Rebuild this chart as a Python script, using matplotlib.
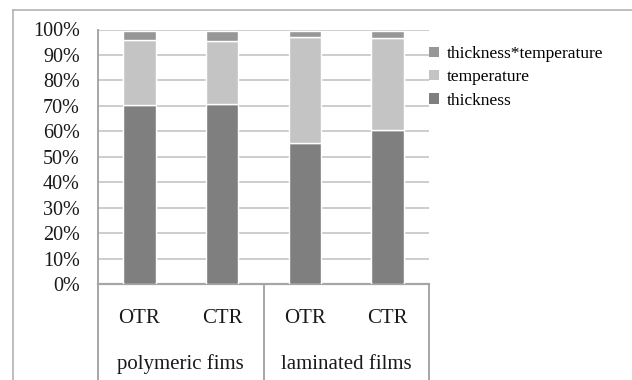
import matplotlib
matplotlib.use('Agg')
import matplotlib.pyplot as plt
from matplotlib.lines import Line2D
from matplotlib.ticker import FuncFormatter
import numpy as np

plt.rcParams['font.family'] = ['Liberation Serif', 'DejaVu Serif']

categories = ['OTR', 'CTR', 'OTR', 'CTR']
groups = ['polymeric fims', 'laminated films']
thickness = [70.2, 70.7, 55.5, 60.4]
temperature = [25.8, 24.8, 41.6, 36.1]
interaction = [3.6, 4.1, 2.5, 3.1]

C_THICK = '#7f7f7f'
C_TEMP = '#c4c4c4'
C_INTER = '#979797'
C_GRID = '#cdcdcd'
C_AXIS = '#a6a6a6'

fig = plt.figure(figsize=(6.32, 3.8), dpi=100)
ax = fig.add_axes([98 / 632, 1 - 284 / 380, 331 / 632, 254.5 / 380])

x = np.arange(len(categories))
w = 0.39
b1 = ax.bar(x, thickness, w, color=C_THICK, edgecolor='white', linewidth=1.0,
            label='thickness', zorder=3)
b2 = ax.bar(x, temperature, w, bottom=thickness, color=C_TEMP, edgecolor='white',
            linewidth=1.0, label='temperature', zorder=3)
base = np.array(thickness) + np.array(temperature)
b3 = ax.bar(x, interaction, w, bottom=base, color=C_INTER, edgecolor='white',
            linewidth=1.0, label='thickness*temperature', zorder=3)

ax.set_xlim(-0.5, 3.5)
ax.set_ylim(0, 100)
ax.set_yticks(np.arange(0, 101, 10))
ax.yaxis.set_major_formatter(FuncFormatter(lambda v, p: f'{v:.0f}%'))
ax.tick_params(axis='y', length=0, pad=13, labelsize=14.5, labelcolor='#1a1a1a')
ax.set_xticks([])
ax.grid(axis='y', color=C_GRID, linewidth=1.4, zorder=0)
ax.set_axisbelow(True)

for s in ['top', 'right']:
    ax.spines[s].set_visible(False)
ax.spines['left'].set_color(C_AXIS)
ax.spines['left'].set_linewidth(1.4)
ax.spines['bottom'].set_color(C_AXIS)
ax.spines['bottom'].set_linewidth(1.6)

# two-level category axis below the bars
trans = ax.get_xaxis_transform()
for xi, lab in zip(x, categories):
    ax.text(xi, -0.135, lab, transform=trans, ha='center', va='center',
            fontsize=15, color='#1a1a1a')
for gi, g in enumerate(groups):
    ax.text(2 * gi + 0.5, -0.315, g, transform=trans, ha='center', va='center',
            fontsize=15, color='#1a1a1a')
for xd in [-0.5, 1.5, 3.5]:
    ax.add_line(Line2D([xd, xd], [0, -0.4], transform=trans, color=C_AXIS,
                       linewidth=1.4, clip_on=False))

# outer frame (left and top edges)
fig.add_artist(Line2D([12.5 / 632, 12.5 / 632], [0, 1 - 9.5 / 380],
                      transform=fig.transFigure, color='#b3b3b3', linewidth=1.2))
fig.add_artist(Line2D([12.5 / 632, 1], [1 - 9.5 / 380, 1 - 9.5 / 380],
                      transform=fig.transFigure, color='#b3b3b3', linewidth=1.2))

leg = fig.legend(handles=[b3, b2, b1],
                 labels=['thickness*temperature', 'temperature', 'thickness'],
                 loc='upper left', bbox_to_anchor=(429 / 632, 1 - 46 / 380),
                 frameon=False, fontsize=12.5, handlelength=0.55, handleheight=0.55,
                 handletextpad=0.45, labelspacing=0.42, borderpad=0, borderaxespad=0)
for h in leg.legend_handles:
    h.set_edgecolor('none')

fig.savefig('out.png', dpi=100)
